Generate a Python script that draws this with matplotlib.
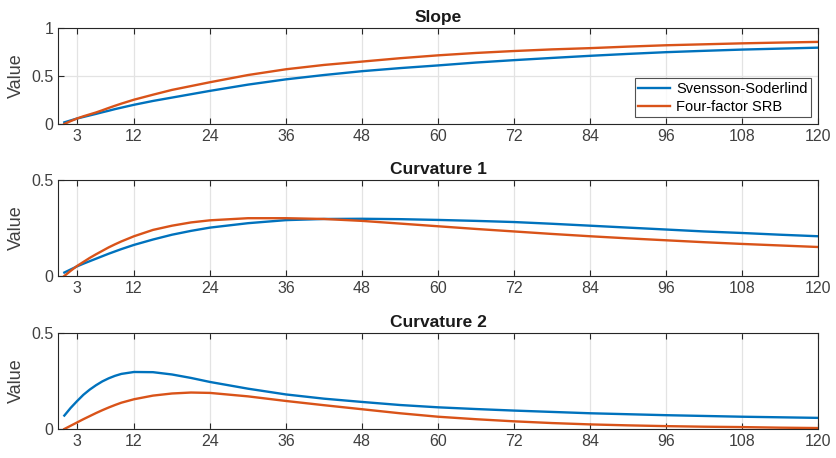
import matplotlib
matplotlib.use("Agg")
import matplotlib.pyplot as plt

plt.rcParams["font.family"] = ["Liberation Sans", "DejaVu Sans"]

# maturities in months
months = [1, 2, 3, 4, 5, 6, 7, 8, 9, 10, 12, 15, 18, 21, 24, 30, 36, 42, 48, 54, 60, 66, 72, 78, 84, 90, 96, 102, 108, 114, 120]

slope_ss = [0.017, 0.037, 0.057, 0.073, 0.089, 0.105, 0.122, 0.138, 0.155, 0.17, 0.20, 0.24, 0.275, 0.31, 0.345,
            0.41, 0.465, 0.51, 0.55, 0.582, 0.61, 0.64, 0.665, 0.688, 0.71, 0.73, 0.748, 0.762, 0.775, 0.785, 0.795]
slope_srb = [0.0, 0.03, 0.057, 0.08, 0.1, 0.12, 0.143, 0.167, 0.19, 0.212, 0.253, 0.305, 0.355, 0.395, 0.435,
             0.51, 0.57, 0.615, 0.65, 0.685, 0.715, 0.74, 0.76, 0.777, 0.79, 0.806, 0.82, 0.83, 0.84, 0.848, 0.855]

curv1_ss = [0.018, 0.034, 0.05, 0.064, 0.077, 0.09, 0.103, 0.116, 0.128, 0.14, 0.162, 0.19, 0.215, 0.235, 0.252,
            0.275, 0.291, 0.297, 0.298, 0.296, 0.292, 0.287, 0.281, 0.272, 0.262, 0.252, 0.242, 0.232, 0.224, 0.215, 0.207]
curv1_srb = [0.0, 0.027, 0.052, 0.073, 0.094, 0.113, 0.131, 0.149, 0.165, 0.18, 0.207, 0.24, 0.262, 0.279, 0.29,
             0.301, 0.301, 0.297, 0.287, 0.273, 0.259, 0.245, 0.232, 0.219, 0.207, 0.196, 0.186, 0.176, 0.167, 0.159, 0.151]

curv2_ss = [0.07, 0.11, 0.145, 0.178, 0.205, 0.228, 0.248, 0.264, 0.277, 0.287, 0.297, 0.296, 0.284, 0.266, 0.245,
            0.21, 0.18, 0.158, 0.141, 0.125, 0.113, 0.104, 0.096, 0.089, 0.082, 0.077, 0.072, 0.068, 0.064, 0.061, 0.058]
curv2_srb = [0.0, 0.017, 0.034, 0.051, 0.067, 0.083, 0.098, 0.112, 0.125, 0.137, 0.155, 0.174, 0.185, 0.19, 0.188,
             0.17, 0.146, 0.124, 0.103, 0.082, 0.064, 0.051, 0.04, 0.031, 0.024, 0.019, 0.015, 0.012, 0.01, 0.007, 0.005]

xticks = [3, 12, 24, 36, 48, 60, 72, 84, 96, 108, 120]
titles = ["Slope", "Curvature 1", "Curvature 2"]
labels = ["Svensson-Soderlind", "Four-factor SRB"]
blue = "#0072BD"
orange = "#D95319"
axcol = "#262626"

fig = plt.figure(figsize=(8.37, 4.58), dpi=100)
left, width, height = 0.0693, 0.908, 0.2096
bottoms = [0.7293, 0.3974, 0.0633]
series = [(slope_ss, slope_srb), (curv1_ss, curv1_srb), (curv2_ss, curv2_srb)]
ylims = [(0, 1), (0, 0.5), (0, 0.5)]

for i in range(3):
    ax = fig.add_axes([left, bottoms[i], width, height])
    ss, srb = series[i]
    ax.plot(months, ss, color=blue, lw=1.7, label=labels[0])
    ax.plot(months, srb, color=orange, lw=1.7, label=labels[1])
    ax.set_xlim(0, 120)
    ax.set_ylim(*ylims[i])
    ax.set_xticks(xticks)
    if i == 0:
        ax.set_yticks([0, 0.5, 1])
        ax.set_yticklabels(["0", "0.5", "1"])
    else:
        ax.set_yticks([0, 0.5])
        ax.set_yticklabels(["0", "0.5"])
    ax.grid(True, color="#e3e3e3", lw=0.9)
    ax.set_axisbelow(True)
    ax.tick_params(direction="in", length=4, colors=axcol, labelsize=11.5,
                   top=True, right=False, labelcolor="#404040")
    for s in ax.spines.values():
        s.set_color(axcol)
        s.set_linewidth(0.8)
    ax.set_ylabel("Value", fontsize=13, color="#404040", labelpad=4)
    ax.set_title(titles[i], fontsize=12.5, fontweight="bold", color="#1a1a1a", pad=4)
    if i == 0:
        leg = ax.legend(loc="lower right", fontsize=10.5, frameon=True, fancybox=False,
                        edgecolor=axcol, borderpad=0.25, handlelength=2.2,
                        borderaxespad=0.45, labelspacing=0.25, handletextpad=0.4)
        leg.get_frame().set_linewidth(0.8)

fig.savefig("out.png", dpi=100)
